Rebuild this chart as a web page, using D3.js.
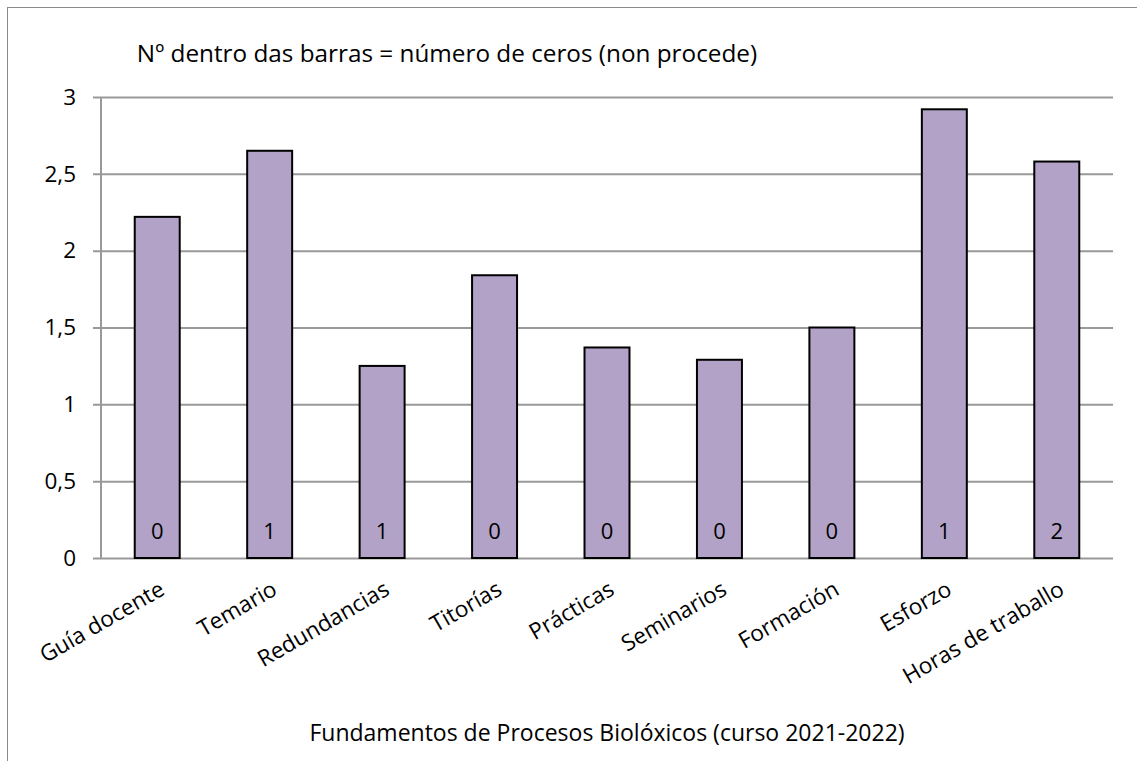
<!DOCTYPE html>
<html>
<head>
<meta charset="utf-8">
<script src="https://cdn.jsdelivr.net/npm/d3@7"></script>
<style>
  html, body { margin: 0; padding: 0; background: #fff; }
  svg { display: block; }
  text { font-family: "Open Sans", "Noto Sans", sans-serif; fill: #000; }
</style>
</head>
<body>
<svg id="chart" width="1137" height="761"></svg>
<script>
// Survey categories and mean scores
const categories = ["Guía docente", "Temario", "Redundancias", "Titorías", "Prácticas",
                     "Seminarios", "Formación", "Esforzo", "Horas de traballo"];
const scores = [2.22, 2.65, 1.25, 1.84, 1.37, 1.29, 1.50, 2.92, 2.58];
// Number of "non procede" (zero) answers per category
const zeroCounts = [0, 1, 1, 0, 0, 0, 0, 1, 2];
const yTicks = [0, 0.5, 1, 1.5, 2, 2.5, 3];

const titleText = "Nº dentro das barras = número de ceros (non procede)";
const axisTitle = "Fundamentos de Procesos Biolóxicos (curso 2021-2022)";

const svg = d3.select("#chart");
const plot = { left: 101, right: 1113, top: 97, bottom: 558 };

// Chart frame (extends past the window on the right and bottom)
svg.append("rect")
  .attr("x", 7.5).attr("y", 7.5)
  .attr("width", 1200).attr("height", 800)
  .attr("fill", "none").attr("stroke", "#8a8a8a").attr("stroke-width", 1);

const x = d3.scaleBand()
  .domain(categories)
  .range([plot.left, plot.right])
  .paddingInner(0.6)
  .paddingOuter(0.3);

const y = d3.scaleLinear().domain([0, 3]).range([plot.bottom, plot.top]);

// Horizontal gridlines with tick labels
const yAxis = d3.axisLeft(y)
  .tickValues(yTicks)
  .tickSize(-(plot.right - plot.left))
  .tickPadding(25)
  .tickFormat(d => String(d).replace(".", ","));

const gy = svg.append("g")
  .attr("transform", `translate(${plot.left},0)`)
  .call(yAxis);
gy.select(".domain").remove();
gy.selectAll(".tick line")
  .attr("x1", -8)
  .attr("stroke", "#999").attr("stroke-width", 2);
gy.selectAll(".tick text")
  .attr("font-size", 22.5)
  .attr("font-family", "Open Sans")
  .attr("fill", "#000");

// Vertical axis line
svg.append("line")
  .attr("x1", plot.left).attr("x2", plot.left)
  .attr("y1", plot.top).attr("y2", plot.bottom)
  .attr("stroke", "#999").attr("stroke-width", 2);

// Bars
svg.append("g").selectAll("rect")
  .data(categories)
  .join("rect")
  .attr("x", d => x(d))
  .attr("width", x.bandwidth())
  .attr("y", (d, i) => y(scores[i]))
  .attr("height", (d, i) => y(0) - y(scores[i]))
  .attr("fill", "#b2a2c7")
  .attr("stroke", "#000")
  .attr("stroke-width", 2);

// Zero-count labels inside bars
svg.append("g").selectAll("text")
  .data(categories)
  .join("text")
  .attr("x", d => x(d) + x.bandwidth() / 2)
  .attr("y", y(0) - 19)
  .attr("text-anchor", "middle")
  .attr("font-size", 22)
  .text((d, i) => zeroCounts[i]);

// Rotated category labels
svg.append("g").selectAll("text")
  .data(categories)
  .join("text")
  .attr("text-anchor", "end")
  .attr("font-size", 22.5)
  .attr("transform", d => `translate(${x(d) + x.bandwidth() / 2 + 1},${plot.bottom + 22}) rotate(-30)`)
  .attr("dy", "0.7em")
  .text(d => d);

// Chart title
svg.append("text")
  .attr("x", 447).attr("y", 62)
  .attr("text-anchor", "middle")
  .attr("font-size", 24.3)
  .text(titleText);

// Horizontal axis title
svg.append("text")
  .attr("x", 607).attr("y", 741)
  .attr("text-anchor", "middle")
  .attr("font-size", 23)
  .text(axisTitle);
</script>
</body>
</html>
